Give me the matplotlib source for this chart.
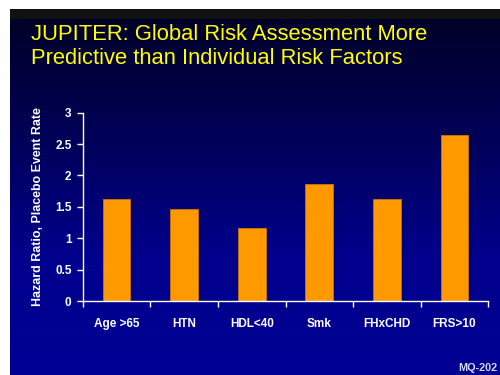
import numpy as np
import matplotlib.pyplot as plt
from matplotlib.colors import LinearSegmentedColormap

categories = ['Age >65', 'HTN', 'HDL<40', 'Smk', 'FHxCHD', 'FRS>10']
hazard_ratio = [1.62, 1.46, 1.17, 1.87, 1.62, 2.65]
yticks = [0, 0.5, 1, 1.5, 2, 2.5, 3]
ytick_labels = ['0', '0.5', '1', '1.5', '2', '2.5', '3']

plt.rcParams['font.family'] = ['Liberation Sans', 'DejaVu Sans']

fig = plt.figure(figsize=(5, 3.75), dpi=100)
fig.patch.set_facecolor('white')

# slide background: dark strip on top, navy -> blue gradient below
strip = fig.add_axes([10/500, 1 - 19/375, 490/500, 10/375])
strip.set_facecolor('#111111')
strip.set_xticks([])
strip.set_yticks([])
for s in strip.spines.values():
    s.set_visible(False)

bg = fig.add_axes([10/500, 0, 490/500, 1 - 19/375])
cmap = LinearSegmentedColormap.from_list('slide', ['#000028', '#000058', '#00008c', '#000094'])
grad = np.linspace(0, 1, 256).reshape(-1, 1)
bg.imshow(grad, aspect='auto', cmap=cmap, extent=[0, 1, 0, 1], origin='upper')
bg.axis('off')

fig.text(31/500, 1 - 40.5/375, 'JUPITER: Global Risk Assessment More',
         color='#ffff00', fontsize=15.8, va='baseline', ha='left')
fig.text(31/500, 1 - 64/375, 'Predictive than Individual Risk Factors',
         color='#ffff00', fontsize=15.8, va='baseline', ha='left')

ax = fig.add_axes([82.7/500, 1 - 301/375, 405.6/500, 188.3/375])
ax.patch.set_alpha(0)
x = np.arange(len(categories))
ax.bar(x, hazard_ratio, width=0.41, color='#ff9900', edgecolor='#c87800', linewidth=0.6)

ax.set_xlim(-0.5, len(categories) - 0.5)
ax.set_ylim(0, 3)
ax.set_yticks(yticks)
ax.set_yticklabels(ytick_labels)
ax.set_xticks(np.arange(len(categories) + 1) - 0.5, minor=False)
ax.set_xticklabels([])
ax.set_xticks(x, minor=True)
ax.set_xticklabels(categories, minor=True)
ax.tick_params(axis='x', which='major', direction='out', length=4, color='white', width=1)
ax.tick_params(axis='x', which='minor', length=0, pad=12, labelcolor='white', labelsize=8.5)
ax.tick_params(axis='y', direction='out', length=4, color='white', width=1,
               labelcolor='white', labelsize=8.5, pad=4)
for lbl in ax.get_xticklabels(minor=True) + ax.get_yticklabels():
    lbl.set_fontweight('bold')

for side in ['top', 'right']:
    ax.spines[side].set_visible(False)
for side in ['left', 'bottom']:
    ax.spines[side].set_color('white')
    ax.spines[side].set_linewidth(1)

ax.set_ylabel('Hazard Ratio, Placebo Event Rate', color='white',
              fontsize=8.9, fontweight='bold', labelpad=8)

fig.text(497/500, 1 - 368/375, 'MQ-202', color='#d8d8e8', fontsize=7.8,
         fontweight='bold', ha='right', va='center')

plt.savefig('out.png', dpi=100)
